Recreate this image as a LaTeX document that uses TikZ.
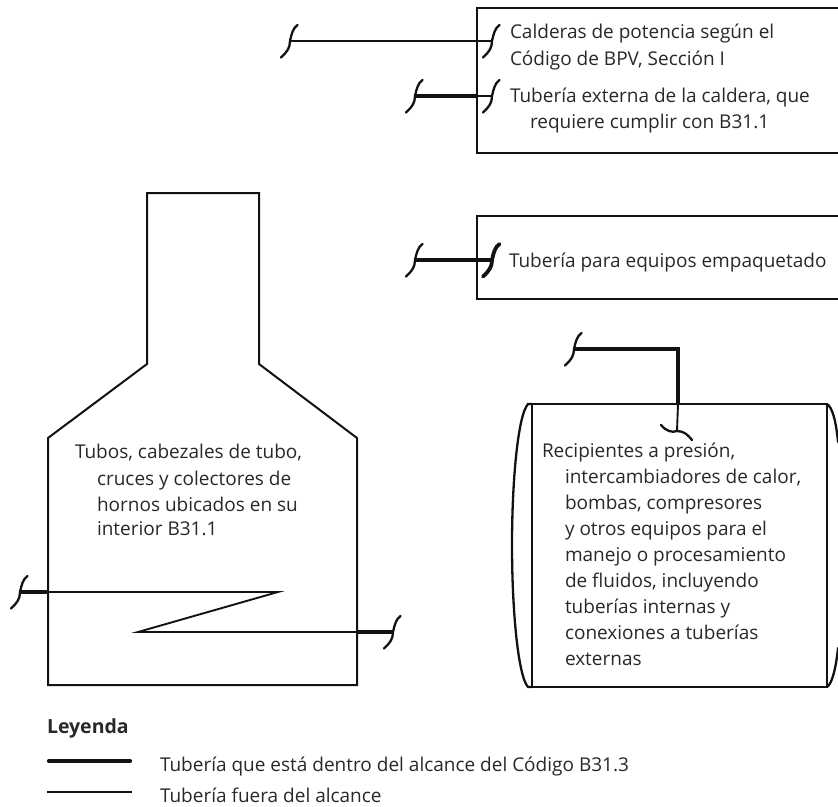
\documentclass[tikz,border=0pt]{standalone}
\usepackage{fontspec}
\setmainfont{Open Sans}
\definecolor{ink}{HTML}{141112}
\definecolor{txtc}{HTML}{2B2728}
\tikzset{
  thinp/.style={draw=ink,line width=1.9pt,line join=miter},
  thickp/.style={draw=ink,line width=4.3pt},
  wall/.style={draw=ink,line width=2pt,line join=miter},
  squig/.style={draw=ink,line width=2.3pt,line cap=round},
  squigb/.style={draw=ink,line width=3.8pt,line cap=round},
  lbl/.style={anchor=base west,inner sep=0pt,outer sep=0pt,text=txtc,font=\fontsize{19}{23}\selectfont},
  pics/brk/.style={code={\draw[#1] (7.5,-16) .. controls (3,-13) and (1.5,-7) .. (0,0) .. controls (0,7) and (-3,11) .. (-9,16.5);}},
}
\begin{document}
\begin{tikzpicture}[x=1pt,y=-1pt]
\useasboundingbox (0,0) rectangle (838,806);
\begin{scope}
\clip (0,0) rectangle (838,806);
% boxes open to the right edge
\coordinate (b1a) at (838,8); \coordinate (b1b) at (477,8); \coordinate (b1c) at (477,153); \coordinate (b1d) at (838,153);
\draw[wall] (b1a) -- (b1b) -- (b1c) -- (b1d);
\coordinate (b2a) at (838,216); \coordinate (b2b) at (477,216); \coordinate (b2c) at (477,299); \coordinate (b2d) at (838,299);
\draw[wall] (b2a) -- (b2b) -- (b2c) -- (b2d);
% furnace
\coordinate (f1) at (48,685); \coordinate (f2) at (48,438); \coordinate (f3) at (147,364); \coordinate (f4) at (147,193);
\coordinate (f5) at (259,193); \coordinate (f6) at (259,364); \coordinate (f7) at (357,438); \coordinate (f8) at (357,685);
\draw[wall] (f1) -- (f2) -- (f3) -- (f4) -- (f5) -- (f6) -- (f7) -- (f8) -- cycle;
% vessel
\coordinate (v1) at (532,404); \coordinate (v2) at (827,404); \coordinate (v3) at (827,687); \coordinate (v4) at (532,687);
\draw[wall] (v1) -- (v2) -- (v3) -- (v4) -- cycle;
\draw[squig] (v1) -- (528,404) .. controls (518,415) and (512,480) .. (512,545) .. controls (512,610) and (518,676) .. (528,687) -- (v4);
\draw[squig] (v2) .. controls (832,407) and (836,420) .. (838,442);
\draw[squig] (v3) .. controls (832,684) and (836,668) .. (838,648);
% line 1
\coordinate (a1) at (290,41); \coordinate (a2) at (492,41);
\draw[thinp] (a1) -- (a2);
\pic at (a1) {brk=squig}; \pic at (a2) {brk=squig};
% line 2
\coordinate (c1) at (415,96); \coordinate (c2) at (477,96); \coordinate (c3) at (492,96);
\draw[thickp] (c1) -- (c2); \draw[thinp] (c2) -- (c3);
\pic at (c1) {brk=squig}; \pic at (c3) {brk=squig};
% line 3
\coordinate (d1) at (415,260); \coordinate (d2) at (492,260);
\draw[thickp] (d1) -- (d2);
\pic at (d1) {brk=squig}; \pic at (d2) {brk=squigb};
% vessel pipe
\coordinate (e1) at (574,349); \coordinate (e2) at (678,349); \coordinate (e3) at (678,404); \coordinate (e4) at (677,431);
\draw[thickp,line join=miter] (e1) -- (e2) -- (e3);
\draw[thinp] (e3) -- (e4);
\pic at (e1) {brk=squig};
\draw[squig] (661,425) .. controls (666,431) and (672,433) .. (e4) .. controls (684,431) and (688,435) .. (692,440);
% coil
\coordinate (g1) at (20,592); \coordinate (g2) at (48,592); \coordinate (g3) at (278,592);
\coordinate (g4) at (138,632); \coordinate (g5) at (357,632); \coordinate (g6) at (393,632);
\draw[thickp] (g1) -- (g2);
\draw[thinp] (g2) -- (g3) -- (g4) -- (g5);
\draw[thickp] (g5) -- (g6);
\pic at (g1) {brk=squig}; \pic at (g6) {brk=squig};
% legend
\coordinate (l1) at (49,761); \coordinate (l2) at (130,761); \coordinate (l3) at (47,792); \coordinate (l4) at (132,792);
\draw[thickp,line cap=round] (l1) -- (l2);
\draw[thinp,line width=2.4pt] (l3) -- (l4);
\end{scope}
% text
\node[lbl] (t1) at (510,38) {Calderas de potencia según el};
\node[lbl] (t2) at (510,65) {Código de BPV, Sección I};
\node[lbl] (t3) at (510,102) {Tubería externa de la caldera, que};
\node[lbl] (t4) at (530,128) {requiere cumplir con B31.1};
\node[lbl] (t5) at (509,267) {Tubería para equipos empaquetado};
\node[lbl] (t6) at (75,458) {Tubos, cabezales de tubo,};
\node[lbl] (t7) at (97,485) {cruces y colectores de};
\node[lbl] (t8) at (97,511) {hornos ubicados en su};
\node[lbl] (t9) at (97,535) {interior B31.1};
\node[lbl] (r1) at (542,457) {Recipientes a presión,};
\node[lbl] (r2) at (565,483) {intercambiadores de calor,};
\node[lbl] (r3) at (565,509) {bombas, compresores};
\node[lbl] (r4) at (565,535) {y otros equipos para el};
\node[lbl] (r5) at (565,561) {manejo o procesamiento};
\node[lbl] (r6) at (565,587) {de fluidos, incluyendo};
\node[lbl] (r7) at (565,613) {tuberías internas y};
\node[lbl] (r8) at (565,639) {conexiones a tuberías};
\node[lbl] (r9) at (565,665) {externas};
\node[lbl,font=\fontsize{19.5}{23}\selectfont\bfseries] (k0) at (47,733) {Leyenda};
\node[lbl] (k1) at (160,771) {Tubería que está dentro del alcance del Código B31.3};
\node[lbl] (k2) at (160,802) {Tubería fuera del alcance};
\end{tikzpicture}
\end{document}
